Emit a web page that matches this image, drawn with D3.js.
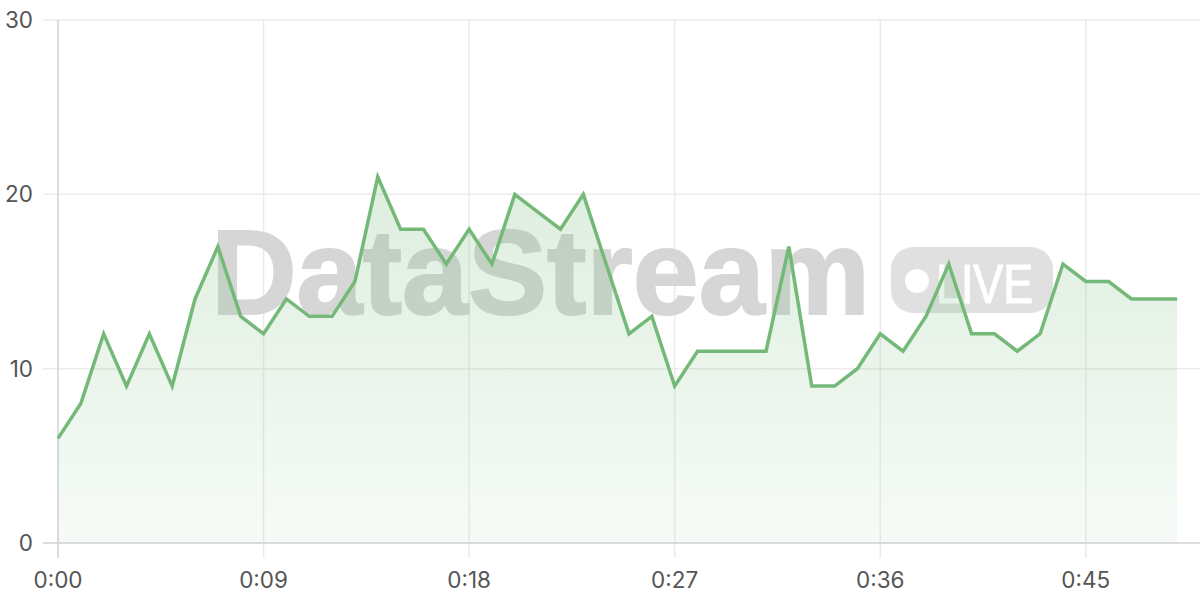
<!DOCTYPE html>
<html>
<head>
<meta charset="utf-8">
<script src="https://cdn.jsdelivr.net/npm/d3@7"></script>
<style>
  html, body { margin: 0; padding: 0; background: #fff; }
  svg { display: block; }
</style>
</head>
<body>
<div id="chart"></div>
<script>
// seconds since start, one reading per second
var seconds = d3.range(0, 50)
var values = [6, 8, 12, 9, 12, 9, 14, 17, 13, 12,
              14, 13, 13, 15, 21, 18, 18, 16, 18, 16,
              20, 19, 18, 20, 16, 12, 13, 9, 11, 11,
              11, 11, 17, 9, 9, 10, 12, 11, 13, 16,
              12, 12, 11, 12, 16, 15, 15, 14, 14, 14]
var xTicks = [0, 9, 18, 27, 36, 45]
var yTicks = [0, 10, 20, 30]

var width = 1200, height = 600
var margin = {top: 20, right: 0, bottom: 57, left: 58}

var data = seconds.map(function(s, i){ return {t: s, v: values[i]} })

var svg = d3.select('#chart').append('svg')
  .attr('width', width)
  .attr('height', height)

var x = d3.scaleLinear().domain([0, 50]).range([margin.left, width - margin.right])
var y = d3.scaleLinear().domain([0, 30]).range([height - margin.bottom, margin.top])

var fmt = function(s){
  var m = Math.floor(s / 60), sec = s % 60
  return m + ':' + (sec < 10 ? '0' : '') + sec
}

// gradient for the area
var grad = svg.append('defs').append('linearGradient')
  .attr('id', 'areaFill')
  .attr('x1', 0).attr('y1', 0).attr('x2', 0).attr('y2', 1)
grad.append('stop').attr('offset', '0%').attr('stop-color', '#78ba7c').attr('stop-opacity', 0.25)
grad.append('stop').attr('offset', '100%').attr('stop-color', '#78ba7c').attr('stop-opacity', 0.06)

// grid lines
svg.append('g')
  .selectAll('line.h')
  .data(yTicks).enter()
  .append('line')
  .attr('x1', margin.left - 15)
  .attr('x2', width)
  .attr('y1', function(d){ return y(d) })
  .attr('y2', function(d){ return y(d) })
  .attr('stroke', '#ebebeb')
  .attr('stroke-width', 1.5)

svg.append('g')
  .selectAll('line.v')
  .data(xTicks).enter()
  .append('line')
  .attr('x1', function(d){ return x(d) })
  .attr('x2', function(d){ return x(d) })
  .attr('y1', margin.top)
  .attr('y2', height - margin.bottom + 15)
  .attr('stroke', '#ebebeb')
  .attr('stroke-width', 1.5)

// watermark
var wm = svg.append('g').attr('class', 'watermark')
wm.append('text')
  .attr('x', 211)
  .attr('y', 314)
  .attr('font-family', 'Liberation Sans, Arial, sans-serif')
  .attr('font-weight', 'bold')
  .attr('font-size', 120)
  .attr('textLength', 659)
  .attr('lengthAdjust', 'spacingAndGlyphs')
  .attr('fill', '#d6d6d6')
  .attr('stroke', '#d6d6d6')
  .attr('stroke-width', 2)
  .text('DataStream')
wm.append('rect')
  .attr('x', 891).attr('y', 247)
  .attr('width', 162).attr('height', 66)
  .attr('rx', 22).attr('ry', 22)
  .attr('fill', '#e0e0e0')
wm.append('circle')
  .attr('cx', 917).attr('cy', 281)
  .attr('r', 12)
  .attr('fill', '#fff')
wm.append('text')
  .attr('x', 936)
  .attr('y', 303)
  .attr('font-family', 'Liberation Sans, Arial, sans-serif')
  .attr('font-size', 55)
  .attr('textLength', 97)
  .attr('lengthAdjust', 'spacingAndGlyphs')
  .attr('fill', '#fff')
  .attr('stroke', '#fff')
  .attr('stroke-width', 1.2)
  .text('LIVE')

// axis lines
svg.append('line')
  .attr('x1', margin.left).attr('x2', margin.left)
  .attr('y1', margin.top).attr('y2', height - margin.bottom + 15)
  .attr('stroke', '#d6d6d6').attr('stroke-width', 1.5)
svg.append('line')
  .attr('x1', margin.left - 15).attr('x2', width)
  .attr('y1', y(0)).attr('y2', y(0))
  .attr('stroke', '#d6d6d6').attr('stroke-width', 1.5)

// area + line
var area = d3.area()
  .x(function(d){ return x(d.t) })
  .y0(y(0))
  .y1(function(d){ return y(d.v) })
var line = d3.line()
  .x(function(d){ return x(d.t) })
  .y(function(d){ return y(d.v) })

svg.append('path')
  .datum(data)
  .attr('d', area)
  .attr('fill', 'url(#areaFill)')

svg.append('path')
  .datum(data)
  .attr('d', line)
  .attr('fill', 'none')
  .attr('stroke', '#74b978')
  .attr('stroke-width', 3.5)
  .attr('stroke-linejoin', 'miter')

// tick labels
svg.append('g')
  .selectAll('text')
  .data(yTicks).enter()
  .append('text')
  .attr('x', 33)
  .attr('y', function(d){ return y(d) })
  .attr('dy', '0.36em')
  .attr('text-anchor', 'end')
  .attr('font-family', 'Inter, sans-serif')
  .attr('font-size', 22.5)
  .attr('fill', '#555')
  .text(function(d){ return d })

svg.append('g')
  .selectAll('text')
  .data(xTicks).enter()
  .append('text')
  .attr('x', function(d){ return x(d) })
  .attr('y', 588)
  .attr('text-anchor', 'middle')
  .attr('font-family', 'Inter, sans-serif')
  .attr('font-size', 22.5)
  .attr('fill', '#555')
  .text(fmt)
</script>
</body>
</html>
